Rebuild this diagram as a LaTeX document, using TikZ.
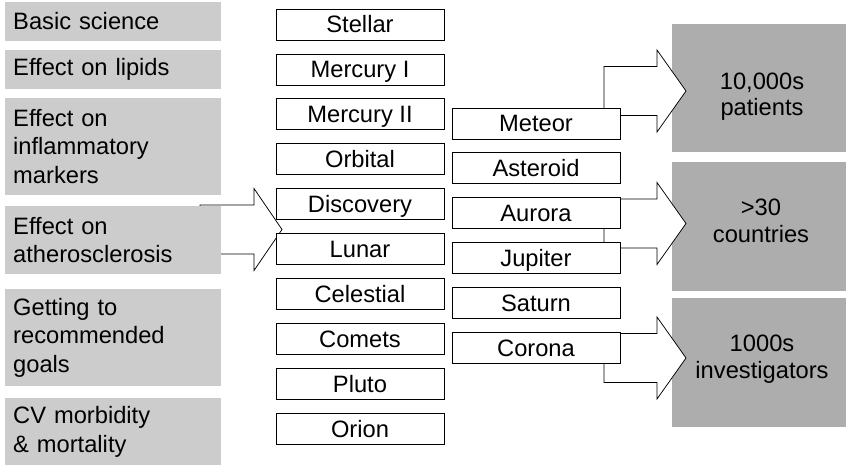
\documentclass[tikz,border=0pt]{standalone}
\usepackage{fontspec}
\setmainfont{Liberation Sans}
\usepackage{xcolor}
\usepackage{tikz}

\definecolor{topicgray}{HTML}{CCCCCC}
\definecolor{reachgray}{HTML}{ADADAD}

\newcommand{\blockarrow}[4]{%
    \draw[blockarrow] (#1,#4-24.5) -- (#2,#4-24.5) -- (#2,#4-41) -- (#3,#4)
        -- (#2,#4+41) -- (#2,#4+24.5) -- (#1,#4+24.5) -- cycle;
}

\begin{document}
\begin{tikzpicture}[
                        x=1pt, y=-1pt,
                        every node/.style={
                                font=\fontsize{23.7}{28.5}\selectfont,
                            },
                        topicbox/.style={
                                fill=topicgray,
                                anchor=west,
                                text width=200pt,
                                align=left,
                                inner xsep=8pt,
                                inner ysep=0pt,
                            },
                        trialbox/.style={
                                draw=black,
                                line width=0.75pt,
                                fill=white,
                                minimum width=168pt,
                                minimum height=31pt,
                                inner sep=0pt,
                                text height=17pt,
                                text depth=0pt,
                            },
                        reachbox/.style={
                                fill=reachgray,
                                minimum width=174pt,
                                inner sep=0pt,
                            },
                        reachtext/.style={
                                align=center,
                                inner sep=0pt,
                                font=\fontsize{23.7}{26.7}\selectfont,
                            },
                        blockarrow/.style={
                                draw=black,
                                fill=white,
                                line width=0.75pt,
                                line join=miter,
                            },
                    ]

                    \useasboundingbox (0,0) rectangle (846,465);

                    % reach of the programme
                    \node[reachbox, minimum height=128pt] (patients) at (759,88) {};
                    \node[reachbox, minimum height=129pt] (countries) at (759,226.5) {};
                    \node[reachbox, minimum height=129pt] (investigators) at (759,362.5) {};

                    \node[reachtext] (patientslbl) at (762,96.7) {10,000s\\patients};
                    \node[reachtext] (countrieslbl) at (761,220.5) {>30\\countries};
                    \node[reachtext] (investigatorslbl) at (762,359) {1000s\\investigators};

                    \blockarrow{200}{254}{282}{229.5}
                    \blockarrow{604}{657}{686}{91}
                    \blockarrow{604}{657}{686}{223.5}
                    \blockarrow{604}{657}{686}{358}

                    \node[topicbox, minimum height=39pt] (basic) at (5,21.5) {Basic science};
                    \node[topicbox, minimum height=39pt] (lipids) at (5,69.5) {Effect on lipids};
                    \node[topicbox, minimum height=97pt] (inflam) at (5,146.5) {Effect on\\inflammatory\\markers};
                    \node[topicbox, minimum height=68pt] (athero) at (5,240) {Effect on\\atherosclerosis};
                    \node[topicbox, minimum height=97pt] (goals) at (5,337.5) {Getting to\\recommended\\goals};
                    \node[topicbox, minimum height=68pt] (outcomes) at (5,432) {CV morbidity\\\& mortality};

                    \foreach \lbl/\nm [count=\i from 0] in {Stellar/stellar, Mercury I/mercuryi,
                            Mercury II/mercuryii, Orbital/orbital, Discovery/discovery, Lunar/lunar,
                            Celestial/celestial, Comets/comets, Pluto/pluto, Orion/orion}{
                            \node[trialbox] (\nm) at (360,24.5+44.9*\i) {\lbl};
                        }

                    \foreach \lbl/\nm [count=\i from 0] in {Meteor/meteor, Asteroid/asteroid,
                            Aurora/aurora, Jupiter/jupiter, Saturn/saturn, Corona/corona}{
                            \node[trialbox] (\nm) at (536,123.5+44.8*\i) {\lbl};
                        }
                \end{tikzpicture}
\end{document}
